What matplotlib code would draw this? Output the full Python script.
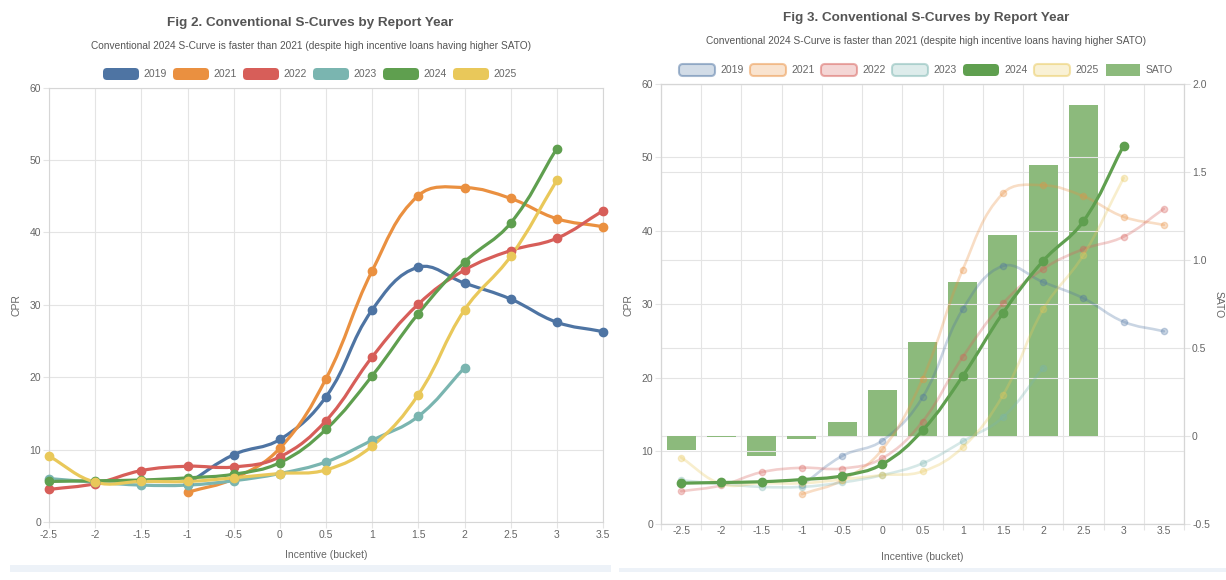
import numpy as np
import matplotlib
matplotlib.use('Agg')
import matplotlib.pyplot as plt
from matplotlib.path import Path
from matplotlib.patches import PathPatch, FancyBboxPatch, Rectangle
from matplotlib.transforms import IdentityTransform
from matplotlib.colors import to_rgba

plt.rcParams['font.family'] = ['Liberation Sans', 'DejaVu Sans']

W, H = 1226, 580
nan = np.nan

# ---------------- data ----------------
incentive = [-2.5, -2, -1.5, -1, -0.5, 0, 0.5, 1, 1.5, 2, 2.5, 3, 3.5]
tick_labels = ['-2.5', '-2', '-1.5', '-1', '-0.5', '0', '0.5', '1', '1.5', '2', '2.5', '3', '3.5']
years = ['2019', '2021', '2022', '2023', '2024', '2025']
cpr_2019 = [nan, nan, nan, 5.3, 9.3, 11.4, 17.3, 29.3, 35.2, 33.0, 30.8, 27.6, 26.3]
cpr_2021 = [nan, nan, nan, 4.1, 6.0, 10.2, 19.8, 34.7, 45.1, 46.2, 44.7, 41.9, 40.8]
cpr_2022 = [4.5, 5.3, 7.1, 7.7, 7.6, 9.0, 14.0, 22.8, 30.1, 34.8, 37.5, 39.2, 43.0]
cpr_2023 = [6.0, 5.5, 5.1, 5.1, 5.7, 6.7, 8.3, 11.3, 14.6, 21.3, nan, nan, nan]
cpr_2024 = [5.6, 5.7, 5.8, 6.1, 6.6, 8.2, 12.8, 20.2, 28.8, 35.9, 41.3, 51.6, nan]
cpr_2025 = [9.1, 5.5, 5.6, 5.6, 6.1, 6.7, 7.2, 10.5, 17.6, 29.3, 36.7, 47.2, nan]
sato = [-0.08, -0.005, -0.11, -0.013, 0.08, 0.26, 0.535, 0.875, 1.14, 1.54, 1.88, nan, nan]
series = [cpr_2019, cpr_2021, cpr_2022, cpr_2023, cpr_2024, cpr_2025]
colors = ['#4e74a3', '#ea9040', '#d75e59', '#7ab5b0', '#5f9f4f', '#e9c85a']

title_l = 'Fig 2. Conventional S-Curves by Report Year'
title_r = 'Fig 3. Conventional S-Curves by Report Year'
subtitle = 'Conventional 2024 S-Curve is faster than 2021 (despite high incentive loans having higher SATO)'

GRID = '#e4e4e4'
TXT = '#666666'
FS = 7.5

fig = plt.figure(figsize=(W / 100, H / 100), dpi=100)
fig.patch.set_facecolor('white')


def fx(x):
    return x / W


def fy(y):
    return 1 - y / H


def axes_px(x0, y0, x1, y1):
    return fig.add_axes([fx(x0), fy(y1), (x1 - x0) / W, (y1 - y0) / H])


def spline(ax, xs, ys, color, lw, alpha=1.0, zorder=3, t=0.4):
    xs = np.asarray(xs, float)
    ys = np.asarray(ys, float)
    ok = ~np.isnan(ys)
    idx = np.where(ok)[0]
    if len(idx) == 0:
        return
    runs = np.split(idx, np.where(np.diff(idx) != 1)[0] + 1)
    for run in runs:
        P = ax.transData.transform(np.column_stack([xs[run], ys[run]]))
        n = len(P)
        if n < 2:
            continue
        cp_prev = np.zeros_like(P)
        cp_next = np.zeros_like(P)
        for i in range(n):
            cur = P[i]
            prv = P[i - 1] if i > 0 else cur
            nxt = P[i + 1] if i < n - 1 else cur
            d01 = np.hypot(*(cur - prv))
            d12 = np.hypot(*(nxt - cur))
            s = d01 + d12
            s01 = d01 / s if s else 0
            s12 = d12 / s if s else 0
            cp_prev[i] = cur - t * s01 * (nxt - prv)
            cp_next[i] = cur + t * s12 * (nxt - prv)
        verts = [P[0]]
        codes = [Path.MOVETO]
        for i in range(n - 1):
            verts += [cp_next[i], cp_prev[i + 1], P[i + 1]]
            codes += [Path.CURVE4] * 3
        verts = ax.transData.inverted().transform(np.array(verts))
        patch = PathPatch(Path(verts, codes), fill=False, edgecolor=color, lw=lw,
                          alpha=alpha, zorder=zorder, transform=ax.transData,
                          capstyle='round', joinstyle='round')
        ax.add_patch(patch)


def style_axis(ax):
    for s in ax.spines.values():
        s.set_color('#d6d6d6')
        s.set_linewidth(0.8)
    ax.tick_params(colors=GRID, labelcolor=TXT, labelsize=FS, length=4.3, width=0.8, pad=1.5)
    ax.grid(True, color=GRID, lw=0.8)
    ax.set_axisbelow(True)


def legend_box(x, yc, face, edge=None, lw=0.0, rounded=True, w=36, h=12):
    if rounded:
        p = FancyBboxPatch((x, H - yc - h / 2), w, h, boxstyle='round,pad=0,rounding_size=4',
                           facecolor=face, edgecolor=edge if edge is not None else 'none',
                           lw=lw, transform=IdentityTransform())
    else:
        p = Rectangle((x, H - yc - h / 2), w, h, facecolor=face, edgecolor='none',
                      transform=IdentityTransform())
    fig.add_artist(p)


# ---------------- left chart ----------------
axL = axes_px(49, 87.7, 603, 522)
axL.set_xlim(-2.5, 3.5)
axL.set_ylim(0, 60)
axL.set_xticks(incentive)
axL.set_xticklabels(tick_labels)
axL.set_yticks(range(0, 61, 10))
style_axis(axL)

for ys, c in zip(series, colors):
    spline(axL, incentive, ys, c, lw=2.3, zorder=3)
    axL.plot(incentive, ys, 'o', ms=6, color=c, mec=c, zorder=4, clip_on=False)

fig.text(fx(310), fy(23), title_l, ha='center', va='center', fontsize=9.7, fontweight='bold', color='#555555')
fig.text(fx(311), fy(46), subtitle, ha='center', va='center', fontsize=7.3, color='#555555')
for i, (yr, c) in enumerate(zip(years, colors)):
    bx = 103 + 70 * i
    legend_box(bx, 74, c)
    fig.text(fx(bx + 40), fy(74), yr, ha='left', va='center', fontsize=FS, color=TXT)
fig.text(fx(16), fy(305), 'CPR', rotation=90, ha='center', va='center', fontsize=FS, color=TXT)
fig.text(fx(326), fy(555), 'Incentive (bucket)', ha='center', va='center', fontsize=FS, color=TXT)

# ---------------- right chart ----------------
axR = axes_px(661, 84, 1184, 524.3)
ax2 = axR.twinx()
xcat = np.arange(len(incentive))
axR.set_xlim(-0.5, len(incentive) - 0.5)
axR.set_ylim(0, 60)
ax2.set_ylim(-0.5, 2.0)
axR.set_yticks(range(0, 61, 10))
axR.set_xticks(xcat)
axR.set_xticklabels(tick_labels)
axR.set_xticks(np.arange(-0.5, len(incentive)), minor=True)
style_axis(axR)
axR.grid(False)
axR.grid(True, axis='y', color=GRID, lw=0.8)
axR.grid(True, axis='x', which='minor', color=GRID, lw=0.8)
axR.tick_params(axis='x', which='major', length=0)
axR.tick_params(axis='x', which='minor', length=4.3, color=GRID, width=0.8)
ax2.set_yticks([-0.5, 0, 0.5, 1.0, 1.5, 2.0])
ax2.set_yticklabels(['-0.5', '0', '0.5', '1.0', '1.5', '2.0'])
style_axis(ax2)
ax2.grid(True, axis='y', color=GRID, lw=0.8)

axR.set_zorder(2)
ax2.set_zorder(1)
axR.patch.set_visible(False)

bar_color = '#8cba7c'
ax2.bar(xcat, sato, width=0.72, color=bar_color, zorder=2)

for ys, c, yr in zip(series, colors, years):
    if yr == '2024':
        continue
    spline(axR, xcat, ys, c, lw=1.9, alpha=0.3, zorder=3)
    axR.plot(xcat, ys, 'o', ms=4.5, color=c, mec=c, alpha=0.3, zorder=3)
spline(axR, xcat, cpr_2024, colors[4], lw=2.3, zorder=5)
axR.plot(xcat, cpr_2024, 'o', ms=6, color=colors[4], mec=colors[4], zorder=6)

fig.text(fx(926), fy(18), title_r, ha='center', va='center', fontsize=9.7, fontweight='bold', color='#555555')
fig.text(fx(926), fy(41), subtitle, ha='center', va='center', fontsize=7.3, color='#555555')
for i, (yr, c) in enumerate(zip(years, colors)):
    bx = 679 + 71 * i
    if yr == '2024':
        legend_box(bx, 70, c)
    else:
        legend_box(bx, 70, to_rgba(c, 0.25), edge=to_rgba(c, 0.5), lw=1.5)
    fig.text(fx(bx + 41), fy(70), yr, ha='left', va='center', fontsize=FS, color=TXT)
legend_box(1106, 70, bar_color, rounded=False, w=34)
fig.text(fx(1146), fy(70), 'SATO', ha='left', va='center', fontsize=FS, color=TXT)
fig.text(fx(628), fy(305), 'CPR', rotation=90, ha='center', va='center', fontsize=FS, color=TXT)
fig.text(fx(922), fy(557), 'Incentive (bucket)', ha='center', va='center', fontsize=FS, color=TXT)
fig.text(fx(1219), fy(305), 'SATO', rotation=270, ha='center', va='center', fontsize=FS, color=TXT)

# bottom strips
fig.add_artist(Rectangle((10, H - 572), 601, 7, facecolor='#edf2f8', edgecolor='none',
                         transform=IdentityTransform()))
fig.add_artist(Rectangle((619, H - 572), 607, 4, facecolor='#edf2f8', edgecolor='none',
                         transform=IdentityTransform()))

fig.savefig('out.png', dpi=100, facecolor='white')
